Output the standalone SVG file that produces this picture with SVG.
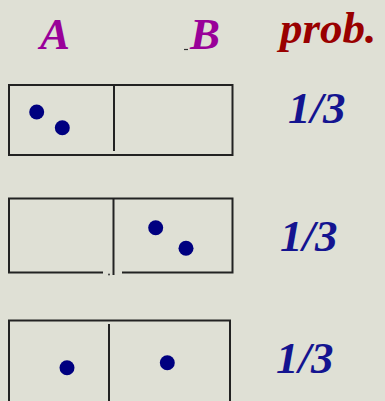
<svg xmlns="http://www.w3.org/2000/svg" width="385" height="401" viewBox="0 0 385 401">
<style>
.bx{fill:none;stroke:#222;stroke-width:2}
.dot{fill:#000080}
.t{font-family:"Liberation Serif","Times New Roman",serif;font-weight:bold;font-style:italic;font-size:45px}
.ab{fill:#990099}
.pr{fill:#990000}
.p{fill:#141490}
</style>
<rect width="385" height="401" fill="#dfe0d5"/>
<g id="header">
<text class="t ab" x="40" y="49">A</text>
<line x1="184" y1="49.5" x2="188" y2="49.5" stroke="#333" stroke-width="1.2"/>
<text class="t ab" x="190" y="49">B</text>
<text class="t pr" x="280" y="43">prob.</text>
</g>
<g id="row1">
<rect class="bx" x="9" y="85" width="223.5" height="70"/>
<line class="bx" x1="114" y1="85" x2="114" y2="151"/>
<circle class="dot" cx="36.7" cy="112" r="7.5"/>
<circle class="dot" cx="62.3" cy="127.7" r="7.5"/>
<text class="t p" x="288" y="123">1/3</text>
</g>
<g id="row2">
<path class="bx" d="M103 272.5H9V198.5H232.5V272.5H122"/>
<line class="bx" x1="113.5" y1="198.5" x2="113.5" y2="275"/>
<circle cx="109" cy="274.5" r="1" fill="#444"/>
<circle class="dot" cx="155.7" cy="227.7" r="7.5"/>
<circle class="dot" cx="186" cy="248.3" r="7.5"/>
<text class="t p" x="280" y="251">1/3</text>
</g>
<g id="row3">
<path class="bx" d="M9 405V320.5H230V405"/>
<line class="bx" x1="109" y1="324" x2="109" y2="405"/>
<circle class="dot" cx="67" cy="367.7" r="7.5"/>
<circle class="dot" cx="167.3" cy="362.7" r="7.5"/>
<text class="t p" x="276" y="373">1/3</text>
</g>
<g id="connectors"/>
</svg>
